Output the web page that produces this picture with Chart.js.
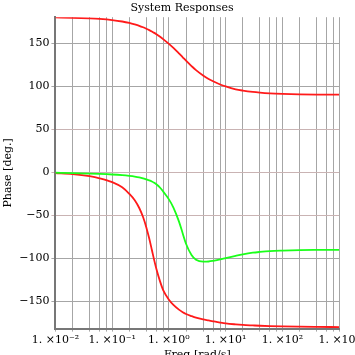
<!DOCTYPE html>
<html>
<head>
<meta charset="utf-8">
<script src="https://cdn.jsdelivr.net/npm/chart.js@4/dist/chart.umd.min.js"></script>
<style>
html,body{margin:0;padding:0;background:#fff;overflow:hidden;width:355px;height:355px;}
canvas{display:block;}
</style>
</head>
<body>
<canvas id="c" width="362" height="362"></canvas>
<script>
// ---- data ----
const freq = [0.01,0.02,0.04,0.06,0.1,0.15,0.2,0.25,0.3,0.35,0.4,0.45,0.5,0.55,0.6,0.7,0.8,1,1.2,1.5,1.75,2,2.5,3,4,5,6,8,10,15,20,30,40,60,100,200,400,1000];
const phaseUpperRed = [179.7,179.3,178.6,178,176.7,175,173.3,171.6,170,168.3,166.6,165,163.4,161.8,160.2,157.2,154.3,149,144.3,138,133.5,129.6,123.3,118.5,112.3,108.3,105.6,101.9,99.6,96.3,94.8,93.2,92.4,91.6,91,90.5,90.2,90.1];
const phaseGreen = [-0.6,-1,-1.5,-1.9,-2.6,-3.4,-4.2,-5,-5.9,-7,-8.3,-9.5,-10.8,-12.3,-14,-18,-22.8,-31.5,-41,-57,-71,-83,-96,-101.5,-103.8,-103.6,-102.8,-101.2,-99.6,-97,-95.3,-93.4,-92.5,-91.5,-90.9,-90.4,-90.2,-90.1];
const phaseLowerRed = [-1,-2.2,-4.6,-7,-11.5,-17.5,-25,-32.5,-41.5,-52,-64,-77,-90,-102,-112,-127,-137.5,-148,-154,-159.5,-162.5,-164.5,-167,-168.8,-170.8,-172,-173,-174.5,-175.5,-176.6,-177.2,-177.8,-178.2,-178.6,-179,-179.3,-179.5,-179.7];
const xGridValues = [0.01,0.02,0.04,0.06,0.08,0.1,0.2,0.4,0.6,0.8,1,2,4,6,8,10,20,40,60,80,100,200,400,600,800,1000];
const xTickLabels = {"0.01":"1. ×10⁻²","0.1":"1. ×10⁻¹","1":"1. ×10⁰","10":"1. ×10¹","100":"1. ×10²","1000":"1. ×10³"};
const yTickValues = [-150,-100,-50,0,50,100,150];
const pinkGridValues = [-50,0,50];

const FONT = "'DejaVu Serif', serif";
const pts = arr => freq.map((f,i)=>({x:f,y:arr[i]}));

new Chart(document.getElementById('c'), {
  type: 'line',
  data: {
    datasets: [
      {data: pts(phaseUpperRed), borderColor:'#ff1a1a', borderWidth:1.8, pointRadius:0, cubicInterpolationMode:'monotone', fill:false},
      {data: pts(phaseGreen), borderColor:'#1aff1a', borderWidth:1.8, pointRadius:0, cubicInterpolationMode:'monotone', fill:false},
      {data: pts(phaseLowerRed), borderColor:'#ff1a1a', borderWidth:1.8, pointRadius:0, cubicInterpolationMode:'monotone', fill:false}
    ]
  },
  options: {
    responsive: false,
    animation: false,
    devicePixelRatio: 1,
    layout: {padding: {left: 2, right: 0, top: 0, bottom: 0}},
    plugins: {
      legend: {display: false},
      tooltip: {enabled: false},
      title: {display: true, text: 'System Responses', color: '#000', font: {family: FONT, size: 11, weight: 'normal'}, padding: {top: 2, bottom: 2}}
    },
    scales: {
      x: {
        type: 'logarithmic', min: 0.01, max: 1000,
        afterBuildTicks: s => { s.ticks = xGridValues.map(v => ({value: v})); },
        ticks: {autoSkip: false, maxRotation: 0, minRotation: 0, color: '#000', padding: 2,
          font: {family: FONT, size: 11},
          callback: v => xTickLabels[String(v)] || ''},
        grid: {color: '#a6a6a6', lineWidth: 1, tickLength: 3},
        border: {color: '#777', width: 2},
        title: {display: true, text: 'Freq [rad/s]', color: '#000', font: {family: FONT, size: 11}, padding: {top: 0, bottom: 0}}
      },
      y: {
        type: 'linear', min: -181.5, max: 180,
        afterBuildTicks: s => { s.ticks = yTickValues.map(v => ({value: v})); },
        ticks: {color: '#000', padding: 2, font: {family: FONT, size: 11},
          callback: v => v < 0 ? '\u2212' + Math.abs(v) : String(v)},
        grid: {color: c => (c.tick && pinkGridValues.includes(c.tick.value)) ? '#c9b3b3' : '#a6a6a6', lineWidth: 1, tickLength: 4},
        border: {color: '#777', width: 2},
        title: {display: true, text: 'Phase [deg.]', color: '#000', font: {family: FONT, size: 11}, padding: {top: 0, bottom: 2}}
      }
    }
  }
});
</script>
</body>
</html>
